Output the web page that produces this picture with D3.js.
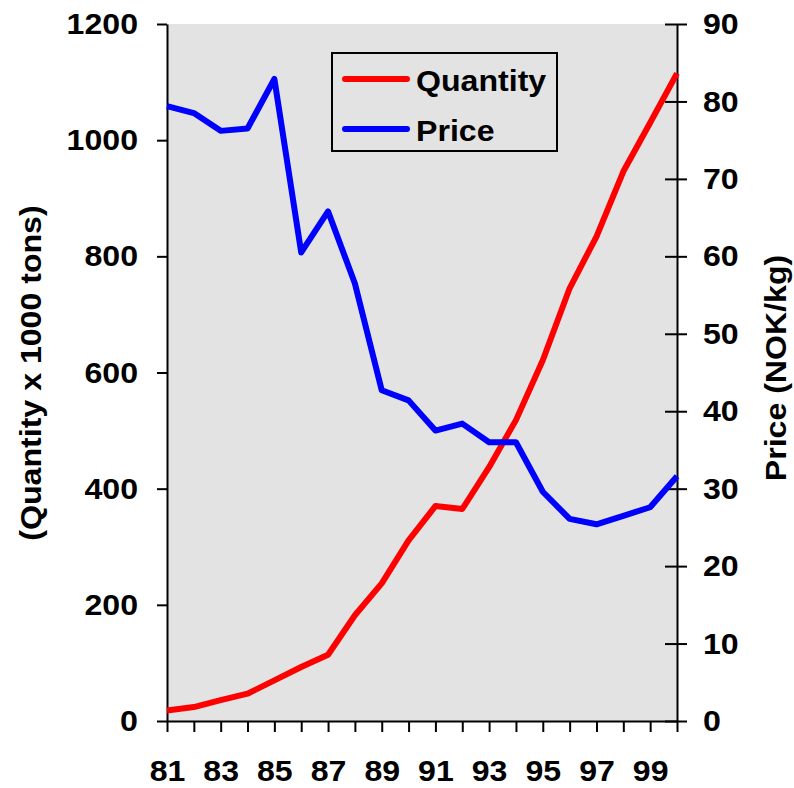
<!DOCTYPE html>
<html><head><meta charset="utf-8">
<script src="https://cdn.jsdelivr.net/npm/d3@7"></script>
<style>body{margin:0;background:#fff}svg{display:block}text{font-family:"Liberation Sans",Arial,sans-serif;font-weight:bold;fill:#000}</style>
</head><body>
<svg id="c" width="794" height="788"></svg>
<script>
const years = [81,82,83,84,85,86,87,88,89,90,91,92,93,94,95,96,97,98,99,100];
const quantity = [18,24,36,47,70,93,114,182,237,311,370,365,437,518,621,745,834,946,1030,1115];
const price = [79.4,78.5,76.2,76.5,82.9,60.5,65.8,56.5,42.7,41.4,37.5,38.4,36.0,36.0,29.6,26.1,25.4,26.5,27.6,31.6];
const xTickLabels = [81,83,85,87,89,91,93,95,97,99];
const leftTicks = [0,200,400,600,800,1000,1200];
const rightTicks = [0,10,20,30,40,50,60,70,80,90];
const seriesNames = ["Quantity","Price"];
const seriesColors = ["#ff0000","#0000ff"];

const L=167, R=677, T=24, B=721;
const svg = d3.select("#c");
const x = d3.scaleLinear().domain([81,100]).range([L,R]);
const yL = d3.scaleLinear().domain([0,1200]).range([B,T]);
const yR = d3.scaleLinear().domain([0,90]).range([B,T]);

svg.append("rect").attr("x",L).attr("y",T).attr("width",R-L).attr("height",B-T).attr("fill","#e3e3e3");

const fs = 30;
const gl = svg.append("g").attr("transform",`translate(${L},0)`)
  .call(d3.axisLeft(yL).tickValues(leftTicks).tickFormat(d3.format("d")).tickSize(10).tickPadding(19).tickSizeOuter(0));
const gr = svg.append("g").attr("transform",`translate(${R},0)`)
  .call(d3.axisRight(yR).tickValues(rightTicks).tickFormat(d3.format("d")).tickSize(10).tickPadding(16).tickSizeOuter(0));
gr.selectAll(".tick line").attr("x1",-12).attr("x2",10);
const gb = svg.append("g").attr("transform",`translate(0,${B})`)
  .call(d3.axisBottom(x).tickValues(years).tickSize(11).tickSizeOuter(0).tickFormat(d=>xTickLabels.includes(d)?d:""));
gb.selectAll(".tick text").attr("dy","0").attr("y",60);

[gl,gr,gb].forEach(g=>{
  g.select(".domain").attr("stroke","#000").attr("stroke-width",2);
  g.selectAll(".tick line").attr("stroke","#000").attr("stroke-width",2);
  g.selectAll(".tick text").style("font-size",fs+"px").style("font-weight","bold").attr("fill","#000")
   .style("font-family",'"Liberation Sans",Arial,sans-serif');
});

const line = (ys, scale) => d3.line().x((d,i)=>x(years[i])).y(d=>scale(d))(ys);
svg.append("path").attr("d",line(quantity,yL)).attr("fill","none").attr("stroke",seriesColors[0]).attr("stroke-width",6).attr("stroke-linejoin","round");
svg.append("path").attr("d",line(price,yR)).attr("fill","none").attr("stroke",seriesColors[1]).attr("stroke-width",6).attr("stroke-linejoin","round");

const lg = svg.append("g");
lg.append("rect").attr("x",332).attr("y",53).attr("width",225).attr("height",98).attr("fill","#e3e3e3").attr("stroke","#000").attr("stroke-width",2);
seriesNames.forEach((n,i)=>{
  const yy = 79 + i*50;
  lg.append("line").attr("x1",345).attr("x2",407).attr("y1",yy).attr("y2",yy).attr("stroke",seriesColors[i]).attr("stroke-width",6).attr("stroke-linecap","round");
  lg.append("text").attr("x",416).attr("y",yy+11.5).style("font-size",fs+"px").text(n);
});

svg.append("text").attr("transform","translate(41,373) rotate(-90)").attr("text-anchor","middle").style("font-size",fs+"px").text("(Quantity x 1000 tons)");
svg.append("text").attr("transform","translate(786,368) rotate(-90)").attr("text-anchor","middle").style("font-size",fs+"px").text("Price (NOK/kg)");

// widen glyphs slightly to match the reference's wide bold face
svg.selectAll("text").each(function(){
  const t = this.textContent;
  if (!t) return;
  const w = this.getComputedTextLength();
  this.setAttribute("textLength", (w*1.07).toFixed(1));
  this.setAttribute("lengthAdjust","spacingAndGlyphs");
});
</script>
</body></html>
